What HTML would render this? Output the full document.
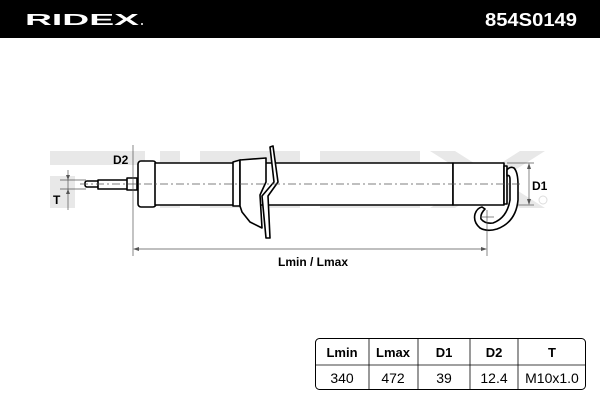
<!DOCTYPE html>
<html><head><style>
body{margin:0;width:600px;height:400px;background:#fff;overflow:hidden;font-family:"Liberation Sans",sans-serif}
</style></head><body>
<svg width="600" height="400" viewBox="0 0 600 400" xmlns="http://www.w3.org/2000/svg" font-family="Liberation Sans, sans-serif">
<rect x="0" y="0" width="600" height="38" fill="#000"/>
<text x="25" y="25" fill="#fff" font-size="16" font-weight="bold" textLength="114" lengthAdjust="spacingAndGlyphs">RIDEX</text>
<circle cx="142" cy="24" r="1" fill="#fff"/>
<text x="577" y="26" fill="#fff" font-size="18" font-weight="bold" text-anchor="end" textLength="92" lengthAdjust="spacingAndGlyphs">854S0149</text>
<g fill="#e8e8e8">
<rect x="50" y="151" width="95" height="14"/><rect x="50" y="176" width="25" height="32"/>
<rect x="160" y="151" width="20" height="57"/>
<rect x="200" y="151" width="100" height="14"/><rect x="200" y="194" width="100" height="14"/>
<rect x="320" y="151" width="100" height="14"/><rect x="320" y="173" width="100" height="14"/><rect x="320" y="194" width="100" height="14"/>
<polygon points="430,151 455,151 545,208 520,208"/><polygon points="520,151 545,151 455,208 430,208"/>
</g>
<g stroke="#000" fill="#fff" stroke-width="1.6" stroke-linejoin="round">
<rect x="85" y="181" width="14" height="6" rx="2"/>
<rect x="98" y="180" width="30" height="9"/>
<rect x="127" y="178" width="10" height="12"/>
<rect x="138" y="161" width="18" height="46" rx="3"/>
<rect x="155" y="163" width="298" height="42"/>
<path d="M233,162 L240,160 L240,206 L233,206 Z"/>
<path d="M240,160 L266,158 L266,182 L260,195 L262,228 L250,222 L242,212 L240,206 Z"/>
<path d="M270,147 L273,146 L278,182 L268,196 L270,238 L266,238 L262,196 L274,182 Z"/>
<rect x="453" y="163" width="51" height="42"/>
<rect x="504" y="166" width="3" height="38"/>
<path d="M507,170 Q510,166 514,168 Q518,172 518,185 L518,200 Q516,222 497,229 Q487,232 480,228 Q473,222 475,214 Q477,208 482,207 L485,209 Q480,214 481,219 Q485,224 493,223 Q507,218 510,200 L510,180 Q510,174 507,176 Z"/>
</g>
<g stroke="#555" stroke-width="0.7" fill="none">
<line x1="80" y1="184" x2="520" y2="184" stroke-dasharray="8,3,2,3"/>
<line x1="133" y1="145" x2="133" y2="256"/>
<line x1="487" y1="210" x2="487" y2="256"/>
<line x1="480" y1="217" x2="494" y2="217"/>
<line x1="135" y1="249" x2="485" y2="249"/>
<line x1="68" y1="170" x2="68" y2="210"/>
<line x1="60" y1="180" x2="86" y2="180"/><line x1="60" y1="189" x2="86" y2="189"/>
<line x1="507" y1="163" x2="534" y2="163"/><line x1="518" y1="205" x2="534" y2="205"/>
<line x1="529" y1="165" x2="529" y2="203"/>
</g>
<g fill="#555">
<polygon points="133,249 139,247 139,251"/><polygon points="487,249 481,247 481,251"/>
<polygon points="529,163 527,169 531,169"/><polygon points="529,205 527,199 531,199"/>
<polygon points="68,180 66,175 70,175"/><polygon points="68,189 66,194 70,194"/>
</g>
<g font-weight="bold" font-size="12" fill="#000">
<text x="113" y="164">D2</text>
<text x="53" y="204">T</text>
<text x="532" y="190">D1</text>
<text x="313" y="266" text-anchor="middle">Lmin / Lmax</text>
</g>
<circle cx="543" cy="200" r="4" fill="none" stroke="#ddd"/>
<rect x="315.5" y="338.5" width="270" height="51" rx="4" fill="#fff" stroke="#000" stroke-width="1"/>
<g stroke="#000" stroke-width="0.8">
<line x1="315" y1="365" x2="586" y2="365"/>
<line x1="369" y1="339" x2="369" y2="389"/><line x1="418" y1="339" x2="418" y2="389"/>
<line x1="470" y1="339" x2="470" y2="389"/><line x1="518" y1="339" x2="518" y2="389"/>
</g>
<g font-size="13" text-anchor="middle" fill="#000">
<g font-weight="bold">
<text x="342" y="357">Lmin</text><text x="393" y="357">Lmax</text><text x="444" y="357">D1</text><text x="494" y="357">D2</text><text x="552" y="357">T</text>
</g>
<text x="342" y="383" font-size="14">340</text><text x="393" y="383" font-size="14">472</text><text x="444" y="383" font-size="14">39</text><text x="494" y="383" font-size="14">12.4</text><text x="552" y="383" font-size="14">M10x1.0</text>
</g>
</svg>
</body></html>
